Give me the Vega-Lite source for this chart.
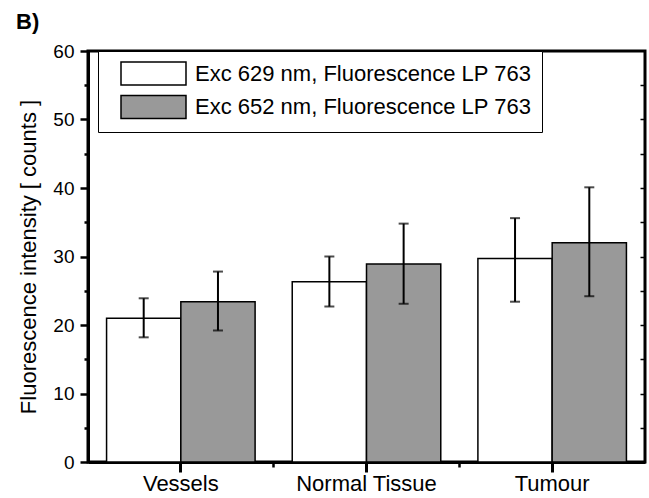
{
  "$schema": "https://vega.github.io/schema/vega-lite/v6.json",
  "width": 557,
  "height": 411,
  "autosize": {"type": "none"},
  "padding": {"left": 88, "top": 51, "right": 4, "bottom": 36},
  "title": {"text": "B)", "anchor": "start", "frame": "group", "dx": -72, "dy": 28, "offset": 19, "baseline": "alphabetic", "fontSize": 22, "fontWeight": "bold", "color": "black"},
  "config": {
    "font": "Liberation Sans",
    "view": {"stroke": "black", "strokeWidth": 3},
    "axis": {"grid": false, "domainColor": "black", "tickColor": "black", "labelColor": "black", "titleColor": "black", "zindex": 1}
  },
  "data": {
    "values": [
      {"cat": "Vessels", "series": "Exc 629 nm, Fluorescence LP 763", "value": 21.0, "lo": 18.2, "hi": 23.9},
      {"cat": "Vessels", "series": "Exc 652 nm, Fluorescence LP 763", "value": 23.4, "lo": 19.2, "hi": 27.8},
      {"cat": "Normal Tissue", "series": "Exc 629 nm, Fluorescence LP 763", "value": 26.3, "lo": 22.7, "hi": 30.0},
      {"cat": "Normal Tissue", "series": "Exc 652 nm, Fluorescence LP 763", "value": 28.9, "lo": 23.1, "hi": 34.8},
      {"cat": "Tumour", "series": "Exc 629 nm, Fluorescence LP 763", "value": 29.7, "lo": 23.4, "hi": 35.6},
      {"cat": "Tumour", "series": "Exc 652 nm, Fluorescence LP 763", "value": 32.0, "lo": 24.2, "hi": 40.1}
    ]
  },
  "layer": [
    {
      "mark": {"type": "bar", "stroke": "black", "strokeWidth": 1.5},
      "encoding": {
        "x": {"field": "cat", "type": "nominal", "sort": ["Vessels", "Normal Tissue", "Tumour"],
              "scale": {"paddingInner": 0.2, "paddingOuter": 0.1},
              "axis": {"title": null, "orient": "bottom", "labelAngle": 0, "labelFontSize": 22, "labelPadding": 1, "tickSize": 10, "tickWidth": 3, "domainWidth": 3, "bandPosition": 0.5}},
        "xOffset": {"field": "series", "type": "nominal", "scale": {"paddingInner": 0, "paddingOuter": 0}},
        "y": {"field": "value", "type": "quantitative", "scale": {"domain": [0, 60], "nice": false},
              "axis": {"title": "Fluorescence intensity [ counts ]", "titleFontSize": 22, "titleFontWeight": "normal", "titlePadding": 12, "values": [0, 10, 20, 30, 40, 50, 60], "labelFontSize": 19, "labelPadding": 6, "tickSize": 8, "tickWidth": 2.5, "domainWidth": 3}},
        "fill": {"field": "series", "type": "nominal",
                 "scale": {"domain": ["Exc 629 nm, Fluorescence LP 763", "Exc 652 nm, Fluorescence LP 763"], "range": ["white", "#999999"]},
                 "legend": {"title": null, "orient": "none", "legendX": 10, "legendY": 0, "direction": "vertical",
                            "symbolType": "M-2.826,-1H2.826V1H-2.826Z", "symbolSize": 529, "symbolStrokeColor": "black", "symbolStrokeWidth": 1.5,
                            "labelFontSize": 22, "labelLimit": 600, "labelOffset": 29, "labelColor": "black", "rowPadding": 4.5, "padding": 10, "symbolOffset": 33,
                            "strokeColor": "black", "fillColor": "white"}}
      }
    },
    {
      "mark": {"type": "rule", "strokeWidth": 2, "color": "black"},
      "encoding": {
        "x": {"field": "cat", "type": "nominal", "sort": ["Vessels", "Normal Tissue", "Tumour"],
              "axis": {"title": null, "orient": "bottom", "values": ["Normal Tissue", "Tumour"], "bandPosition": -0.125, "labels": false, "domain": false, "tickSize": 5, "tickWidth": 2.5}},
        "xOffset": {"field": "series", "type": "nominal"},
        "y": {"field": "lo", "type": "quantitative",
              "axis": {"title": null, "orient": "left", "values": [5, 15, 25, 35, 45, 55], "labels": false, "domain": false, "tickSize": 4, "tickWidth": 2.5}},
        "y2": {"field": "hi"}
      }
    },
    {
      "mark": {"type": "tick", "size": 10, "thickness": 2, "color": "black"},
      "encoding": {
        "x": {"field": "cat", "type": "nominal", "sort": ["Vessels", "Normal Tissue", "Tumour"], "axis": null},
        "xOffset": {"field": "series", "type": "nominal"},
        "y": {"field": "lo", "type": "quantitative",
              "axis": {"title": null, "orient": "right", "values": [5, 10, 15, 20, 25, 30, 35, 40, 45, 50, 55], "labels": false, "domain": false, "tickSize": -5, "tickWidth": 1.5}}
      }
    },
    {
      "mark": {"type": "tick", "size": 10, "thickness": 2, "color": "black"},
      "encoding": {
        "x": {"field": "cat", "type": "nominal", "sort": ["Vessels", "Normal Tissue", "Tumour"], "axis": null},
        "xOffset": {"field": "series", "type": "nominal"},
        "y": {"field": "hi", "type": "quantitative", "axis": null}
      }
    }
  ],
  "resolve": {"axis": {"x": "independent", "y": "independent"}}
}
